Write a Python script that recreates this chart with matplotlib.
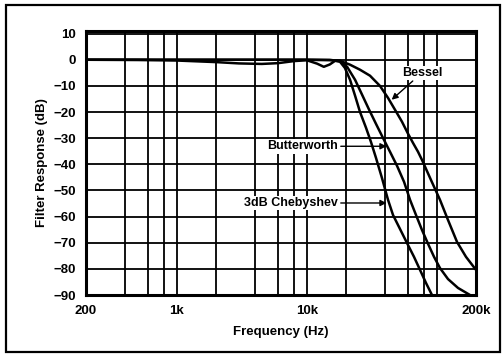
import matplotlib.pyplot as plt
import matplotlib.patches as patches
from matplotlib.ticker import FixedLocator, NullFormatter

# -----------------------------------
# 0. Data
# -----------------------------------
# frequencies in Hz, responses in dB
cheb_freq = [200, 500, 1000, 2000, 3000, 4500, 6000, 8000, 10000, 12000,
             13500, 15000, 16500, 18000, 19600, 21500, 23500, 25600, 28500,
             31100, 34000, 37800, 42100, 46000, 52000, 58900, 66700, 74200,
             82500, 91700]
cheb_db = [0.0, -0.1, -0.3, -0.9, -1.4, -1.6, -1.3, -0.5, -0.2, -1.5,
           -2.7, -1.8, -0.4, -0.8, -3.1, -7.7, -13.8, -19.9, -26.0,
           -31.4, -37.5, -45.2, -53.6, -59.4, -64.7, -70.1, -75.4, -80.4,
           -85.4, -90.0]

butter_freq = [200, 1000, 10000, 15000, 18000, 20400, 23500, 26600, 30100,
               34000, 38500, 43600, 49400, 55900, 62200, 69100, 76800, 85500,
               95100, 105700, 121800, 145400, 179800]
butter_db = [0.0, 0.0, 0.0, -0.1, -0.4, -2.7, -7.7, -13.4, -19.1,
             -24.5, -29.9, -35.2, -40.6, -46.7, -53.6, -59.4, -65.1, -70.4,
             -75.4, -79.7, -83.9, -87.3, -90.0]

bessel_freq = [200, 1000, 10000, 15000, 18000, 21500, 25600, 30600, 36500,
               42100, 47600, 53900, 60000, 65500, 71600, 76800, 90100, 105700,
               121800, 142900, 167500, 200000]
bessel_db = [0.0, 0.0, 0.0, -0.1, -0.4, -1.9, -3.8, -6.1, -10.0,
             -14.6, -19.1, -23.7, -28.3, -31.8, -35.2, -38.3, -46.0, -53.6,
             -61.3, -69.7, -75.4, -80.4]

x_major = [200, 1000, 10000, 200000]
x_major_labels = ["200", "1k", "10k", "200k"]
x_minor = [400, 600, 800, 2000, 4000, 6000, 8000, 20000, 40000, 60000,
           80000, 100000]
y_ticks = [10, 0, -10, -20, -30, -40, -50, -60, -70, -80, -90]

# -----------------------------------
# 1. Figure setup
# -----------------------------------
plt.rcParams["font.family"] = ["Liberation Sans", "DejaVu Sans"]
plt.rcParams["font.weight"] = "bold"

fig = plt.figure(figsize=(5.03, 3.58), dpi=100)
ax = fig.add_axes([86 / 503, 1 - 295 / 358, 390 / 503, 264 / 358])

# outer frame around the whole figure
fig.patches.append(patches.Rectangle((6 / 503, 6 / 358), 494 / 503, 347 / 358,
                                     transform=fig.transFigure, fill=False,
                                     edgecolor="black", linewidth=1.6))

# -----------------------------------
# 2. Curves
# -----------------------------------
ax.plot(bessel_freq, bessel_db, color="black", linewidth=1.8)
ax.plot(butter_freq, butter_db, color="black", linewidth=1.8)
ax.plot(cheb_freq, cheb_db, color="black", linewidth=1.8)

# -----------------------------------
# 3. Axes, grid
# -----------------------------------
ax.set_xscale("log")
ax.set_xlim(200, 200000)
ax.set_ylim(-90, 11)

ax.xaxis.set_major_locator(FixedLocator(x_major))
ax.xaxis.set_minor_locator(FixedLocator(x_minor))
ax.xaxis.set_minor_formatter(NullFormatter())
ax.set_xticklabels(x_major_labels)
ax.set_yticks(y_ticks)

ax.grid(True, which="both", color="black", linewidth=1.3)
ax.tick_params(which="both", length=0, labelsize=9.5, pad=7)
for lbl in ax.get_xticklabels() + ax.get_yticklabels():
    lbl.set_fontweight("bold")
for side in ax.spines.values():
    side.set_linewidth(2.2)

ax.set_xlabel("Frequency (Hz)", fontsize=9.5, fontweight="bold", labelpad=7)
ax.set_ylabel("Filter Response (dB)", fontsize=9.5, fontweight="bold",
              labelpad=4)

# -----------------------------------
# 4. Labels with arrows
# -----------------------------------
arrow = dict(arrowstyle="-|>", color="black", linewidth=1.0,
             mutation_scale=9, shrinkA=1, shrinkB=0)
box = dict(boxstyle="square,pad=0.1", facecolor="white", edgecolor="none")

ax.annotate("Bessel", xy=(44900, -15.3), xytext=(76800, -5),
            ha="center", va="center", fontsize=9, fontweight="bold",
            bbox=box, arrowprops=arrow)
ax.annotate("Butterworth", xy=(41000, -33.1), xytext=(17400, -33.1),
            ha="right", va="center", fontsize=9, fontweight="bold",
            bbox=box, arrowprops=arrow)
ax.annotate("3dB Chebyshev", xy=(41000, -54.8), xytext=(17400, -54.8),
            ha="right", va="center", fontsize=9, fontweight="bold",
            bbox=box, arrowprops=arrow)

fig.savefig("out.png", dpi=100)
plt.close(fig)
